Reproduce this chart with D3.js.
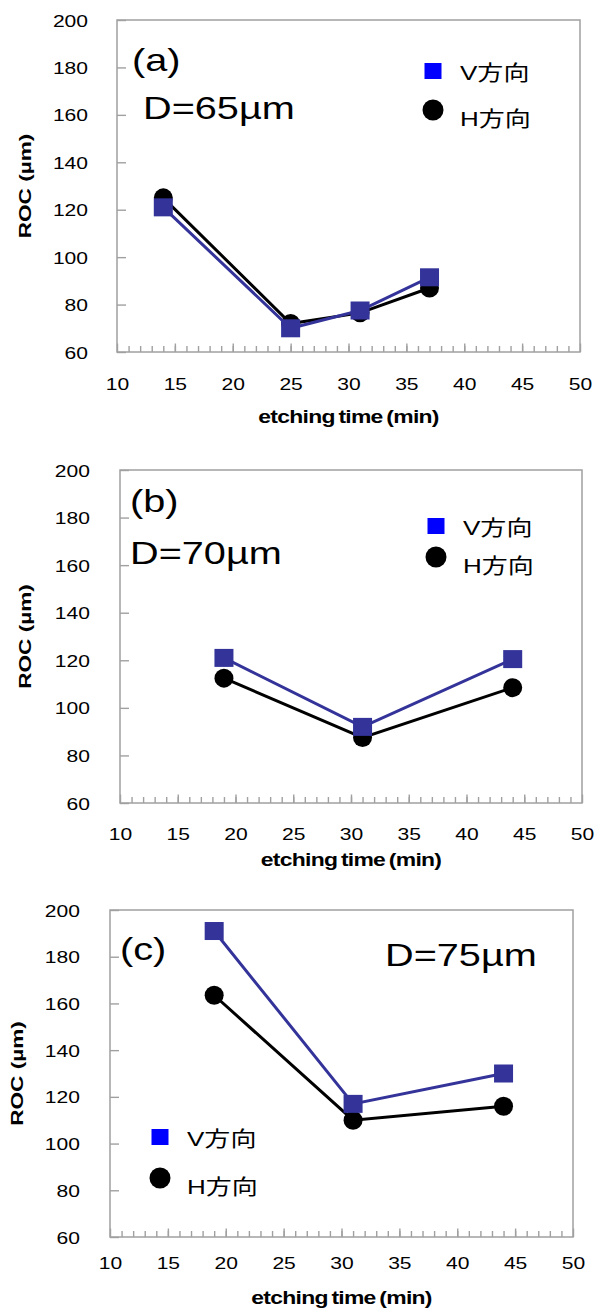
<!DOCTYPE html>
<html><head><meta charset="utf-8">
<script src="https://cdn.jsdelivr.net/npm/d3@7"></script>
<style>
html,body{margin:0;padding:0;background:#fff;}
svg{display:block;}
text{font-family:Arial,"Liberation Sans","Noto Sans CJK JP",sans-serif;fill:#000;}
</style></head>
<body>
<svg id="c" width="596" height="1314"></svg>
<script>
// ---- data ----
const xTicks = [10, 15, 20, 25, 30, 35, 40, 45, 50];
const yTicks = [60, 80, 100, 120, 140, 160, 180, 200];
const seriesNames = ["V方向", "H方向"];
const xTitle = "etching time (min)";
const yTitle = "ROC (µm)";

const panelLabels = ["(a)", "(b)", "(c)"];
const diameterLabels = ["D=65µm", "D=70µm", "D=75µm"];

const timesA = [14, 25, 31, 37];
const vA = [121, 70, 77.5, 91.5];
const hA = [125, 72, 76.5, 87];

const timesB = [19, 31, 44];
const vB = [121, 92, 120.5];
const hB = [112.5, 87.5, 108.5];

const timesC = [19, 31, 44];
const vC = [191, 117, 130];
const hC = [163.5, 110, 116];

// ---- layout ----
const SX = 1.24;
const panels = [
  {times: timesA, v: vA, h: hA, L: 117, R: 580, T: 20, B: 352, ylab: 88, xlab: 390, xt: 423, roc: 25,
   pl: [132, 71], dl: [143, 119], leg: [433, 71, 110]},
  {times: timesB, v: vB, h: hB, L: 120, R: 582, T: 470, B: 803, ylab: 90, xlab: 840, xt: 866, roc: 25,
   pl: [130, 512], dl: [130, 564], leg: [436, 526, 557]},
  {times: timesC, v: vC, h: hC, L: 110, R: 573, T: 910, B: 1237, ylab: 80, xlab: 1269, xt: 1304, roc: 17,
   pl: [120, 960], dl: [385, 966], leg: [160, 1137, 1178]}
];

const svg = d3.select("#c");

function stext(g, x, y, str, size, anchor, weight) {
  return g.append("text")
    .attr("transform", `translate(${x},${y}) scale(${SX},1)`)
    .attr("text-anchor", anchor || "start")
    .style("font-size", size + "px")
    .style("font-weight", weight || "normal")
    .text(str);
}

panels.forEach((p, i) => {
  const g = svg.append("g");
  const x = d3.scaleLinear().domain([10, 50]).range([p.L, p.R]);
  const y = d3.scaleLinear().domain([60, 200]).range([p.B, p.T]);

  // minor ticks (inward)
  const minor = g.append("g").attr("transform", `translate(0,${p.B})`)
    .call(d3.axisBottom(x).tickValues(d3.range(11, 50)).tickSize(-6).tickFormat(""));
  const major = g.append("g").attr("transform", `translate(0,${p.B})`)
    .call(d3.axisBottom(x).tickValues(xTicks).tickSize(-8.5).tickPadding(0));
  [minor, major].forEach(a => {
    a.select(".domain").remove();
    a.selectAll("line").attr("stroke", "#a0a0a0").attr("stroke-width", 1.4);
  });
  major.selectAll("text")
    .attr("y", null).attr("dy", null)
    .attr("transform", `translate(0,${p.xlab - p.B}) scale(${SX},1)`)
    .style("font-size", "17px").attr("fill", "#000");

  const yax = g.append("g").attr("transform", `translate(${p.L},0)`)
    .call(d3.axisLeft(y).tickValues(yTicks).tickSize(-9));
  yax.select(".domain").remove();
  yax.selectAll("line").attr("stroke", "#a0a0a0").attr("stroke-width", 1.4);
  yax.selectAll("text")
    .attr("x", -(p.L - p.ylab) / SX).attr("dy", "0.36em")
    .attr("transform", `scale(${SX},1)`)
    .style("font-size", "17px").attr("fill", "#000");

  // plot border
  g.append("rect").attr("x", p.L).attr("y", p.T)
    .attr("width", p.R - p.L).attr("height", p.B - p.T)
    .attr("fill", "none").attr("stroke", "#a0a0a0").attr("stroke-width", 1.5);

  // titles
  g.append("text")
    .attr("transform", `translate(${(p.L + p.R) / 2},${p.xt}) scale(${SX},1)`)
    .attr("text-anchor", "middle")
    .style("font-size", "18.5px").style("font-weight", "bold")
    .style("letter-spacing", "-0.6px").style("word-spacing", "-1.5px")
    .text(xTitle);
  g.append("text")
    .attr("transform", `translate(${p.roc},${(p.T + p.B) / 2}) rotate(-90) scale(1.13,0.85)`)
    .attr("text-anchor", "middle").attr("dy", "0.36em")
    .style("font-size", "20px").style("font-weight", "bold")
    .text(yTitle);

  // annotations
  stext(g, p.pl[0], p.pl[1], panelLabels[i], 32);
  stext(g, p.dl[0], p.dl[1], diameterLabels[i], 32);

  // series
  const line = d3.line().x(d => x(d[0])).y(d => y(d[1]));
  const hPts = p.times.map((t, k) => [t, p.h[k]]);
  const vPts = p.times.map((t, k) => [t, p.v[k]]);

  g.append("path").datum(hPts).attr("d", line)
    .attr("fill", "none").attr("stroke", "#000").attr("stroke-width", 3);
  g.selectAll("circle.h").data(hPts).enter().append("circle")
    .attr("cx", d => x(d[0])).attr("cy", d => y(d[1])).attr("r", 9.5).attr("fill", "#000");

  g.append("path").datum(vPts).attr("d", line)
    .attr("fill", "none").attr("stroke", "#333399").attr("stroke-width", 3);
  g.selectAll("rect.v").data(vPts).enter().append("rect")
    .attr("x", d => x(d[0]) - 9.5).attr("y", d => y(d[1]) - 9)
    .attr("width", 19).attr("height", 18).attr("fill", "#333399");

  // legend
  const [lx, ly1, ly2] = p.leg;
  g.append("rect").attr("x", lx - 8.5).attr("y", ly1 - 8).attr("width", 17).attr("height", 16).attr("fill", "#0000ff");
  g.append("circle").attr("cx", lx).attr("cy", ly2).attr("r", 10.5).attr("fill", "#000");
  stext(g, lx + 27, ly1 + 9, seriesNames[0], 21);
  stext(g, lx + 27, ly2 + 16, seriesNames[1], 21);
});
</script>
</body></html>
